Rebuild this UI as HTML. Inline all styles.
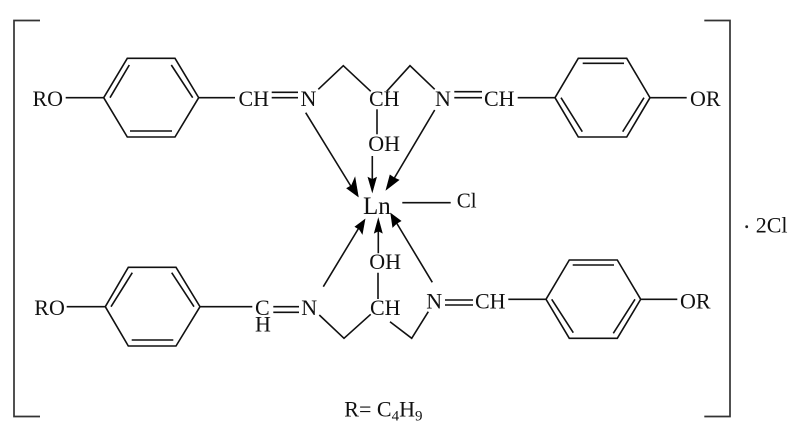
<!DOCTYPE html>
<html><head><meta charset="utf-8"><style>
html,body{margin:0;padding:0;background:#fff;width:791px;height:436px;overflow:hidden}
svg{display:block}
text{font-family:"Liberation Serif",serif;font-size:22px;fill:#111}
.l{stroke:#111;stroke-width:1.6;fill:none;stroke-linejoin:miter}
.a{fill:#000;stroke:#000;stroke-width:.6}
.b{stroke:#333;stroke-width:1.7;fill:none}
</style></head><body>
<svg width="791" height="436" viewBox="0 0 791 436" xmlns="http://www.w3.org/2000/svg">
<path class="b" d="M40 20.5H14V416.5H40"/>
<path class="b" d="M704.3 20.5H730V416.5H704.3"/>

<path class="l" d="M103.7 97.7L127.3 58.3H175L198.7 97.7L175 137H127.3Z"/>
<path class="l" d="M110 97.7L129.3 65M171.3 65L192.7 97.7M130 131H172M65.7 97.7H103.7M198.7 97.7H235"/>
<path class="l" d="M271.7 92.3H298M271.7 97.7H298"/>
<path class="l" d="M318.3 89.3L343.3 65.7L370.7 91.3M386.7 91.3L410 65.7L434.7 89.3"/>
<path class="l" d="M377 109.3V134.3"/>
<path class="l" d="M454.3 91.7H482M454.3 97.7H482M517.7 97.7H555"/>
<path class="l" d="M555 97.7L578.3 58.3H626.7L650 97.7L626.7 137H578.3Z"/>
<path class="l" d="M582.7 63.3H624M561 97.7L582.3 131.7M644 97.7L622.7 131.7M650 97.7H686.7"/>

<path class="l" d="M305.7 112.7L352 188M372.3 156V185M434.7 110L392 182M402.3 202.7H450.7"/>
<path class="a" d="M358.3 196.7L346.7 188.3L351.5 185.5L355 177.3Z"/>
<path class="a" d="M372.3 192.3L368 177.3L372.3 179.5L376.5 177.3Z"/>
<path class="a" d="M386 190L390 175L394.5 178L399 180Z"/>

<path class="l" d="M323.3 286.7L360 226M378.3 253.3V227M432.3 282.3L396 222"/>
<path class="a" d="M365 219.3L355 226.7L359.5 229.5L362.3 234Z"/>
<path class="a" d="M378.3 218.3L374.3 233L378.3 231L382.3 233Z"/>
<path class="a" d="M390.7 213.3L392.7 227.3L396.5 223.5L401 221Z"/>

<path class="l" d="M105.3 306.7L128.3 267.3H176L200 306.7L176 346H128.3Z"/>
<path class="l" d="M111 306.7L132.3 272.7M171.7 272.7L194 306.7M131.7 340H173.3M66.7 306.7H105.3M200 306.7H252.3"/>
<path class="l" d="M273.3 306.7H299M273.3 312.3H299"/>
<path class="l" d="M319.3 315L344 338.3L370.7 314.3M378 272.7V299M390 321.7L411.7 338.3L428.3 311.7"/>
<path class="l" d="M445 300H473M445 305H473M508.3 299.3H546"/>
<path class="l" d="M546 299.3L569.3 260H617.3L640.7 299.3L617.3 338.3H569.3Z"/>
<path class="l" d="M572.7 265H614M551.7 299.3L573.3 332.7M635 299.3L613.3 333.3M640.7 299.3H677.3"/>

<text x="32.5" y="106">RO</text>
<text x="238.5" y="106">CH</text>
<text x="300.5" y="106">N</text>
<text x="369" y="106">CH</text>
<text x="435" y="106">N</text>
<text x="484" y="106">CH</text>
<text x="690" y="106">OR</text>
<text x="368.3" y="151">OH</text>
<text x="363" y="214" style="font-size:25px">Ln</text>
<text x="456.7" y="207.5" style="font-size:21px">Cl</text>
<text x="369.3" y="269">OH</text>
<text x="34.3" y="315">RO</text>
<text x="255" y="315">C</text>
<text x="255" y="331.7">H</text>
<text x="301.2" y="315">N</text>
<text x="370" y="315">CH</text>
<text x="426.2" y="308.3">N</text>
<text x="475" y="308.3">CH</text>
<text x="680" y="308.3">OR</text>
<circle cx="746.7" cy="226.7" r="1.4" fill="#222"/>
<text x="755.7" y="232.5">2Cl</text>
<text x="344.3" y="416.7">R= C<tspan dy="4" style="font-size:15px">4</tspan><tspan dy="-4">H</tspan><tspan dy="4" style="font-size:15px">9</tspan></text>
</svg>
</body></html>
